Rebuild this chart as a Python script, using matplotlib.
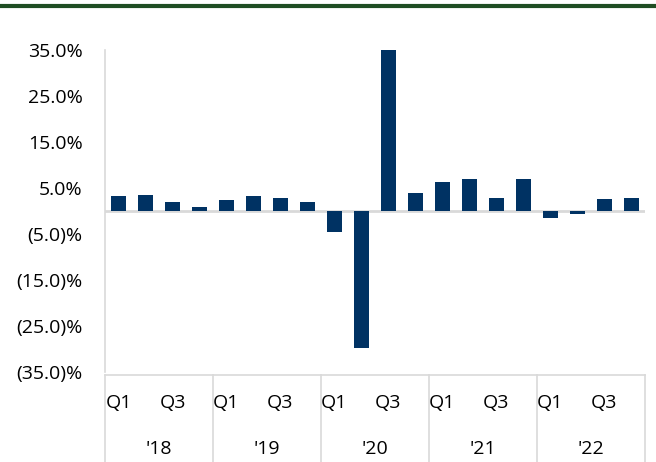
import matplotlib
matplotlib.use("Agg")
import matplotlib.pyplot as plt
from matplotlib.lines import Line2D
import numpy as np

years = ["'18", "'19", "'20", "'21", "'22"]
quarters = ["Q1", "Q2", "Q3", "Q4"]
growth = [3.2, 3.5, 1.9, 0.8,
          2.4, 3.2, 2.8, 1.9,
          -4.6, -29.9, 35.3, 3.9,
          6.3, 7.0, 2.7, 7.0,
          -1.6, -0.6, 2.5, 2.9]
yticks = [35, 25, 15, 5, -5, -15, -25, -35]

bar_color = "#003263"
grid_grey = "#d9d9d9"

plt.rcParams["font.family"] = ["Open Sans", "DejaVu Sans"]

fig = plt.figure(figsize=(6.56, 4.62), dpi=100)
ax = fig.add_axes([0.16, 0.195, 0.823, 0.697])

x = np.arange(len(growth))
ax.bar(x, growth, width=0.56, color=bar_color, zorder=3)
ax.axhline(0, color=grid_grey, lw=2, zorder=2)

ax.set_xlim(-0.5, len(growth) - 0.5)
ax.set_ylim(-35, 35)
ax.set_yticks(yticks)
ax.set_yticklabels([f"{v:.1f}%" if v >= 0 else f"({abs(v):.1f})%" for v in yticks],
                   fontsize=14)
ax.tick_params(axis="y", length=0, pad=16)
ax.set_xticks([])
for s in ["top", "right", "bottom"]:
    ax.spines[s].set_visible(False)
ax.spines["left"].set_color(grid_grey)
ax.spines["left"].set_linewidth(1.2)

# two-level category axis: quarters above years, separated by grey lines
trans = ax.get_xaxis_transform()
y_line = -0.01
y_bottom = -0.29
ax.add_line(Line2D([-0.5, len(growth) - 0.5], [y_line, y_line], transform=trans,
                   color=grid_grey, lw=1.2, clip_on=False))
for i in range(len(years) + 1):
    xs = i * 4 - 0.5
    ax.add_line(Line2D([xs, xs], [y_line, y_bottom], transform=trans,
                       color=grid_grey, lw=1.2, clip_on=False))
for i, yr in enumerate(years):
    for q in (0, 2):
        ax.text(i * 4 + q, -0.095, quarters[q], transform=trans, ha="center",
                va="center", fontsize=14)
    ax.text(i * 4 + 1.5, -0.24, yr, transform=trans, ha="center",
            va="center", fontsize=14)

# dark green rule across the top
fig.add_artist(Line2D([0, 1], [0.988, 0.988], transform=fig.transFigure,
                      color="#1f4e23", lw=3))

fig.savefig("out.png", dpi=100)
